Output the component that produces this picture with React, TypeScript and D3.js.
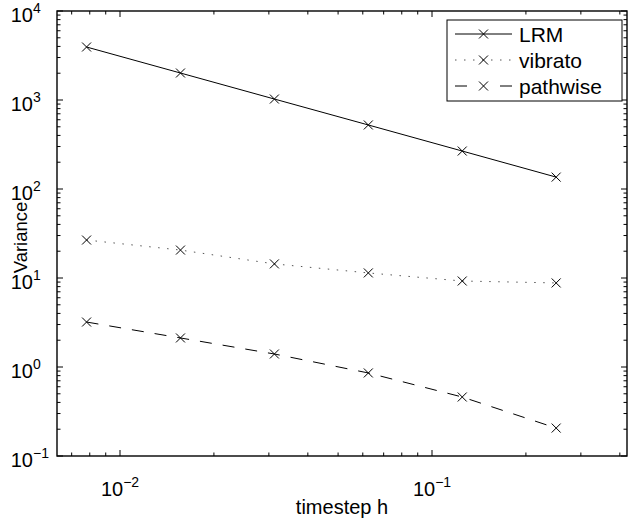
import * as d3 from 'd3';
import { useEffect, useRef } from 'react';

// timestep h and the measured variances
const steps = [1 / 128, 1 / 64, 1 / 32, 1 / 16, 1 / 8, 1 / 4];
const lrm = [3940, 2010, 1025, 524, 267, 136];
const vibrato = [26.7, 20.6, 14.4, 11.4, 9.25, 8.8];
const pathwise = [3.2, 2.12, 1.4, 0.857, 0.46, 0.206];
const seriesNames = ['LRM', 'vibrato', 'pathwise'];
const xTickExps = [-2, -1];
const yTickExps = [-1, 0, 1, 2, 3, 4];

const App = () => {
  const ref = useRef<SVGSVGElement>(null);

  useEffect(() => {
    const width = 631;
    const height = 518;
    const left = 57, right = 627, top = 11, bottom = 456;
    const font = '"Liberation Sans", Arial, sans-serif';

    const svg = d3.select(ref.current);
    svg.selectAll('*').remove();
    svg.attr('width', width).attr('height', height);
    svg.append('rect').attr('width', width).attr('height', height).attr('fill', '#fff');

    // decades at fixed pixels, limits taken from the frame edges
    const x0 = d3.scaleLog().domain([0.01, 0.1]).range([120, 432]);
    const x = d3.scaleLog().domain([x0.invert(left), x0.invert(right)]).range([left, right]);
    const y = d3.scaleLog().domain([0.1, 1e4]).range([bottom, top]);
    const [xMin, xMax] = x.domain();

    const axes = svg.append('g').attr('stroke', '#000').attr('fill', 'none');

    const xMajor = xTickExps.map(e => Math.pow(10, e));
    const xMinor: number[] = [];
    for (let e = -3; e <= -1; e++) {
      for (let m = 2; m <= 9; m++) {
        const v = m * Math.pow(10, e);
        if (v >= xMin && v <= xMax) xMinor.push(v);
      }
    }
    const yMajor = yTickExps.map(e => Math.pow(10, e));
    const yMinor: number[] = [];
    for (let e = -1; e < 4; e++) {
      for (let m = 2; m <= 9; m++) yMinor.push(m * Math.pow(10, e));
    }

    const xt = (vals: number[], len: number) => {
      vals.forEach(v => {
        axes.append('line').attr('x1', x(v)).attr('x2', x(v)).attr('y1', bottom).attr('y2', bottom - len).attr('stroke-width', 1);
        axes.append('line').attr('x1', x(v)).attr('x2', x(v)).attr('y1', top).attr('y2', top + len).attr('stroke-width', 1);
      });
    };
    const yt = (vals: number[], len: number) => {
      vals.forEach(v => {
        axes.append('line').attr('y1', y(v)).attr('y2', y(v)).attr('x1', left).attr('x2', left + len).attr('stroke-width', 1);
        axes.append('line').attr('y1', y(v)).attr('y2', y(v)).attr('x1', right).attr('x2', right - len).attr('stroke-width', 1);
      });
    };
    xt(xMajor, 6);
    xt(xMinor, 3.5);
    yt(yMajor, 6);
    yt(yMinor, 3.5);

    axes.append('rect')
      .attr('x', left).attr('y', top)
      .attr('width', right - left).attr('height', bottom - top)
      .attr('stroke-width', 1.4);

    // tick labels: "10" with a raised exponent, centred as a whole on the tick
    const expText = (e: number) => (e < 0 ? '\u2212' + Math.abs(e) : String(e));
    xTickExps.forEach(e => {
      const t = svg.append('text')
        .attr('x', x(Math.pow(10, e))).attr('y', 496)
        .attr('text-anchor', 'middle')
        .style('font-family', font).style('font-size', '20px');
      t.append('tspan').text('10');
      t.append('tspan').attr('dy', -9).style('font-size', '14px').text(expText(e));
    });
    yTickExps.forEach(e => {
      const yy = y(Math.pow(10, e)) + 11;
      svg.append('text')
        .attr('x', 33).attr('y', yy)
        .attr('text-anchor', 'end')
        .style('font-family', font).style('font-size', '20px')
        .text('10');
      svg.append('text')
        .attr('x', 33).attr('y', yy - 9)
        .style('font-family', font).style('font-size', '14px')
        .text(expText(e));
    });

    // axis titles
    svg.append('text')
      .attr('x', (left + right) / 2).attr('y', 514)
      .attr('text-anchor', 'middle')
      .style('font-family', font).style('font-size', '20px')
      .text('timestep h');
    svg.append('text')
      .attr('transform', `translate(27,${(y(10) + y(100)) / 2 + 4}) rotate(-90)`)
      .attr('text-anchor', 'middle')
      .style('font-family', font).style('font-size', '18.5px')
      .text('Variance');

    // series
    const series = [
      { name: seriesNames[0], values: lrm, dash: null, legendDash: null, color: '#000' },
      { name: seriesNames[1], values: vibrato, dash: '1.5,7.5', legendDash: '1.5,7.5', color: '#555' },
      { name: seriesNames[2], values: pathwise, dash: '12,11', legendDash: '12,33', color: '#000' },
    ];
    const line = d3.line<[number, number]>().x(d => x(d[0])).y(d => y(d[1]));
    const xMark = (g: any, cx: number, cy: number) => {
      const s = 4.5;
      g.append('path')
        .attr('d', `M${cx - s},${cy - s}L${cx + s},${cy + s}M${cx - s},${cy + s}L${cx + s},${cy - s}`)
        .attr('stroke', '#000').attr('stroke-width', 1).attr('fill', 'none');
    };
    series.forEach(s => {
      const pts = steps.map((h, i) => [h, s.values[i]] as [number, number]);
      svg.append('path')
        .attr('d', line(pts))
        .attr('fill', 'none')
        .attr('stroke', s.color)
        .attr('stroke-width', 1)
        .attr('stroke-dasharray', s.dash);
      pts.forEach(p => xMark(svg, x(p[0]), y(p[1])));
    });

    // legend
    const lg = svg.append('g');
    lg.append('rect')
      .attr('x', 447).attr('y', 20).attr('width', 175).attr('height', 81)
      .attr('fill', '#fff').attr('stroke', '#000').attr('stroke-width', 1);
    series.forEach((s, i) => {
      const ry = 34 + i * 26;
      lg.append('line')
        .attr('x1', 455).attr('x2', 512).attr('y1', ry).attr('y2', ry)
        .attr('stroke', s.color)
        .attr('stroke-width', 1)
        .attr('stroke-dasharray', s.legendDash);
      xMark(lg, 483.5, ry);
      lg.append('text')
        .attr('x', 519).attr('y', ry + 7.5)
        .style('font-family', font).style('font-size', '21px')
        .text(s.name);
    });
  }, []);

  return (
    <div style={{ position: 'fixed', left: 0, top: 0 }}>
      <svg ref={ref} style={{ display: 'block' }}></svg>
    </div>
  );
};

export default App;
